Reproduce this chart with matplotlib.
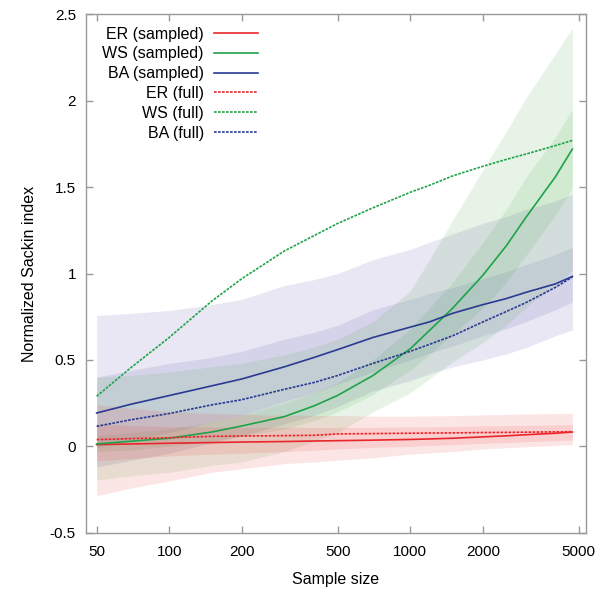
import numpy as np
import matplotlib
matplotlib.use("Agg")
import matplotlib.pyplot as plt

plt.rcParams['font.family'] = ['Liberation Sans', 'DejaVu Sans']

# sample sizes (x)
sizes = [50, 70, 100, 150, 200, 300, 400, 500, 700, 1000, 1200, 1500, 2000, 2500, 3000, 4000, 4700]

# mean curves
er_sampled = [0.010, 0.014, 0.018, 0.022, 0.025, 0.028, 0.031, 0.033, 0.036, 0.040, 0.043, 0.047, 0.055, 0.061, 0.067, 0.076, 0.083]
er_full = [0.039, 0.045, 0.050, 0.058, 0.060, 0.062, 0.064, 0.072, 0.074, 0.076, 0.077, 0.078, 0.080, 0.081, 0.082, 0.084, 0.085]
ws_sampled = [0.014, 0.030, 0.047, 0.083, 0.118, 0.172, 0.235, 0.295, 0.41, 0.565, 0.67, 0.80, 0.99, 1.16, 1.32, 1.56, 1.72]
ws_full = [0.29, 0.46, 0.63, 0.84, 0.97, 1.13, 1.22, 1.29, 1.38, 1.47, 1.51, 1.565, 1.62, 1.66, 1.69, 1.74, 1.77]
ba_sampled = [0.193, 0.245, 0.294, 0.35, 0.39, 0.46, 0.515, 0.56, 0.63, 0.69, 0.72, 0.77, 0.82, 0.855, 0.89, 0.94, 0.983]
ba_full = [0.116, 0.155, 0.19, 0.24, 0.27, 0.33, 0.37, 0.41, 0.48, 0.55, 0.59, 0.64, 0.72, 0.78, 0.83, 0.92, 0.98]

# shaded bands (lower, upper)
er_wide_lo = [-0.285, -0.24, -0.2, -0.15, -0.13, -0.10, -0.09, -0.08, -0.066, -0.045, -0.038, -0.03, -0.015, -0.008, -0.002, 0.006, 0.01]
er_wide_hi = [0.24, 0.22, 0.2, 0.19, 0.185, 0.18, 0.179, 0.178, 0.175, 0.175, 0.176, 0.178, 0.182, 0.185, 0.187, 0.19, 0.192]
er_narrow_lo = [-0.083, -0.07, -0.055, -0.045, -0.04, -0.03, -0.022, -0.015, -0.006, 0.0, 0.005, 0.01, 0.018, 0.022, 0.027, 0.033, 0.037]
er_narrow_hi = [0.13, 0.12, 0.115, 0.112, 0.11, 0.11, 0.11, 0.11, 0.11, 0.112, 0.113, 0.115, 0.118, 0.12, 0.122, 0.124, 0.126]

ws_wide_lo = [-0.195, -0.17, -0.15, -0.11, -0.09, -0.03, 0.03, 0.08, 0.2, 0.31, 0.39, 0.49, 0.6, 0.7, 0.8, 0.93, 1.02]
ws_wide_hi = [0.40, 0.41, 0.43, 0.46, 0.48, 0.53, 0.575, 0.62, 0.72, 0.9, 1.08, 1.31, 1.6, 1.82, 2.01, 2.27, 2.42]
ws_narrow_lo = [-0.03, -0.02, 0.0, 0.03, 0.06, 0.1, 0.15, 0.2, 0.3, 0.44, 0.53, 0.65, 0.8, 0.95, 1.1, 1.34, 1.49]
ws_narrow_hi = [0.06, 0.08, 0.10, 0.14, 0.18, 0.25, 0.31, 0.37, 0.5, 0.68, 0.8, 0.95, 1.18, 1.37, 1.55, 1.79, 1.95]

ba_wide_lo = [-0.12, -0.08, -0.04, 0.02, 0.06, 0.13, 0.18, 0.23, 0.32, 0.38, 0.42, 0.46, 0.50, 0.535, 0.57, 0.64, 0.674]
ba_wide_hi = [0.757, 0.77, 0.786, 0.82, 0.85, 0.93, 0.965, 1.0, 1.08, 1.14, 1.18, 1.23, 1.29, 1.33, 1.37, 1.42, 1.46]
ba_narrow_lo = [-0.01, 0.04, 0.08, 0.14, 0.18, 0.26, 0.31, 0.36, 0.43, 0.5, 0.54, 0.58, 0.64, 0.68, 0.72, 0.79, 0.834]
ba_narrow_hi = [0.40, 0.44, 0.48, 0.515, 0.55, 0.62, 0.66, 0.7, 0.79, 0.85, 0.885, 0.92, 0.97, 1.01, 1.05, 1.11, 1.152]

xticks = [50, 100, 200, 500, 1000, 2000, 5000]
yticks = [-0.5, 0, 0.5, 1, 1.5, 2, 2.5]

red, green, blue = '#e8262b', '#1fa348', '#2a3a92'
pink_fill, green_fill, lav_fill = '#ef3b3b', '#3da33d', '#6a63b0'

fig = plt.figure(figsize=(6.03, 5.92), dpi=100)
ax = fig.add_axes([0.142, 0.100, 0.830, 0.876])

# bands
ax.fill_between(sizes, ba_wide_lo, ba_wide_hi, color=lav_fill, alpha=0.15, lw=0)
ax.fill_between(sizes, ba_narrow_lo, ba_narrow_hi, color=lav_fill, alpha=0.15, lw=0)
ax.fill_between(sizes, ws_wide_lo, ws_wide_hi, color=green_fill, alpha=0.12, lw=0)
ax.fill_between(sizes, ws_narrow_lo, ws_narrow_hi, color=green_fill, alpha=0.12, lw=0)
ax.fill_between(sizes, er_wide_lo, er_wide_hi, color=pink_fill, alpha=0.13, lw=0)
ax.fill_between(sizes, er_narrow_lo, er_narrow_hi, color=pink_fill, alpha=0.13, lw=0)

# lines
dots = (0, (1.6, 0.8))
ax.plot(sizes, er_sampled, color=red, lw=1.2, label='ER (sampled)')
ax.plot(sizes, ws_sampled, color=green, lw=1.2, label='WS (sampled)')
ax.plot(sizes, ba_sampled, color=blue, lw=1.2, label='BA (sampled)')
ax.plot(sizes, er_full, color=red, lw=1.2, ls=dots, label='ER (full)')
ax.plot(sizes, ws_full, color=green, lw=1.2, ls=dots, label='WS (full)')
ax.plot(sizes, ba_full, color=blue, lw=1.2, ls=dots, label='BA (full)')

ax.set_xscale('log')
ax.set_xlim(45, 5360)
ax.set_ylim(-0.5, 2.5)
ax.set_xticks(xticks)
ax.set_xticklabels([str(t) for t in xticks])
ax.set_yticks(yticks)
ax.set_yticklabels(['-0.5', '0', '0.5', '1', '1.5', '2', '2.5'])
ax.minorticks_off()

for s in ax.spines.values():
    s.set_color('#9a9a9a')
    s.set_linewidth(1.0)
ax.tick_params(axis='both', which='major', direction='in', length=5, width=1,
               color='#9a9a9a', labelsize=11, top=True, right=True)
ax.tick_params(axis='x', pad=9)
ax.tick_params(axis='y', pad=7)

ax.set_xlabel('Sample size', fontsize=11.5, labelpad=9)
ax.set_ylabel('Normalized Sackin index', fontsize=11.5, labelpad=9)

ax.legend(loc='upper right', bbox_to_anchor=(0.345, 0.976), frameon=False,
          markerfirst=False, fontsize=11.5, handlelength=2.8, handletextpad=0.6,
          labelspacing=0.3, borderpad=0, borderaxespad=0)

fig.savefig('out.png', dpi=100)
